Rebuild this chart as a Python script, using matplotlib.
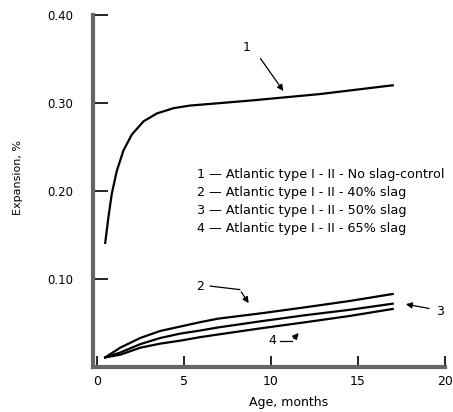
import matplotlib
matplotlib.use('Agg')
import matplotlib.pyplot as plt

plt.rcParams['font.family'] = ['DejaVu Sans']

# curve 1 - no slag control
months1 = [0.46, 0.65, 0.84, 1.13, 1.51, 1.99, 2.66, 3.43, 4.39, 5.34, 6.6, 9.0, 12.8, 17.0]
exp1 = [0.141, 0.171, 0.197, 0.223, 0.246, 0.264, 0.279, 0.288, 0.294, 0.297,
        0.299, 0.303, 0.310, 0.320]

# curves 2-4 - slag blends
months_slag = [0.46, 1.32, 2.47, 3.62, 4.77, 5.92, 6.95, 9.4, 12.0, 14.5, 17.0]
exp2 = [0.011, 0.022, 0.033, 0.041, 0.046, 0.051, 0.055, 0.061, 0.068, 0.075, 0.083]
exp3 = [0.011, 0.0165, 0.026, 0.033, 0.038, 0.0415, 0.045, 0.052, 0.059, 0.065, 0.072]
exp4 = [0.011, 0.014, 0.022, 0.0266, 0.030, 0.034, 0.037, 0.044, 0.051, 0.058, 0.066]

legend_lines = [
    '1 \u2014 Atlantic type I - II - No slag-control',
    '2 \u2014 Atlantic type I - II - 40% slag',
    '3 \u2014 Atlantic type I - II - 50% slag',
    '4 \u2014 Atlantic type I - II - 65% slag',
]
xticks = [0, 5, 10, 15, 20]
yticks = [0.10, 0.20, 0.30, 0.40]

fig = plt.figure(figsize=(4.53, 4.12), dpi=100)
ax = fig.add_axes([0.205, 0.109, 0.777, 0.855])

ax.plot(months1, exp1, color='black', lw=1.6)
ax.plot(months_slag, exp2, color='black', lw=1.6)
ax.plot(months_slag, exp3, color='black', lw=1.6)
ax.plot(months_slag, exp4, color='black', lw=1.6)

ax.set_xlim(-0.25, 20)
ax.set_ylim(0, 0.40)
ax.set_xticks(xticks)
ax.set_xticklabels([str(t) for t in xticks])
ax.set_yticks(yticks)
ax.set_yticklabels(['%.2f' % t for t in yticks])
ax.tick_params(axis='y', direction='in', length=11, width=1.2, labelsize=8.5, pad=14)
ax.tick_params(axis='x', direction='in', length=8, width=1.2, labelsize=9, pad=6)

for s in ['top', 'right']:
    ax.spines[s].set_visible(False)
for s in ['left', 'bottom']:
    ax.spines[s].set_linewidth(3)
    ax.spines[s].set_color('#666666')

ax.set_xlabel('Age, months', fontsize=9)
ax.xaxis.set_label_coords(0.557, -0.082)
ax.set_ylabel('Expansion, %', fontsize=8)
ax.yaxis.set_label_coords(-0.198, 0.537)

# legend block as text
for i, line in enumerate(legend_lines):
    ax.text(5.75, 0.219 - i * 0.0205, line, fontsize=9.2, va='center', ha='left')

arrow = dict(arrowstyle='-|>', color='black', lw=0.9, mutation_scale=9)

# label 1
ax.annotate('', xy=(10.8, 0.311), xytext=(9.3, 0.353), arrowprops=arrow)
ax.text(8.6, 0.363, '1', fontsize=9, ha='center', va='center')

# label 2
ax.text(5.9, 0.091, '2', fontsize=9, ha='center', va='center')
ax.plot([6.5, 8.2], [0.092, 0.088], color='black', lw=0.9)
ax.annotate('', xy=(8.8, 0.070), xytext=(8.2, 0.088), arrowprops=arrow)

# label 3
ax.text(19.7, 0.063, '3', fontsize=9, ha='center', va='center')
ax.annotate('', xy=(17.6, 0.072), xytext=(19.25, 0.066), arrowprops=arrow)

# label 4
ax.text(10.1, 0.030, '4', fontsize=9, ha='center', va='center')
ax.plot([10.5, 11.2], [0.030, 0.030], color='black', lw=0.9)
ax.annotate('', xy=(11.7, 0.041), xytext=(11.2, 0.030), arrowprops=arrow)

fig.savefig('out.png', dpi=100)
